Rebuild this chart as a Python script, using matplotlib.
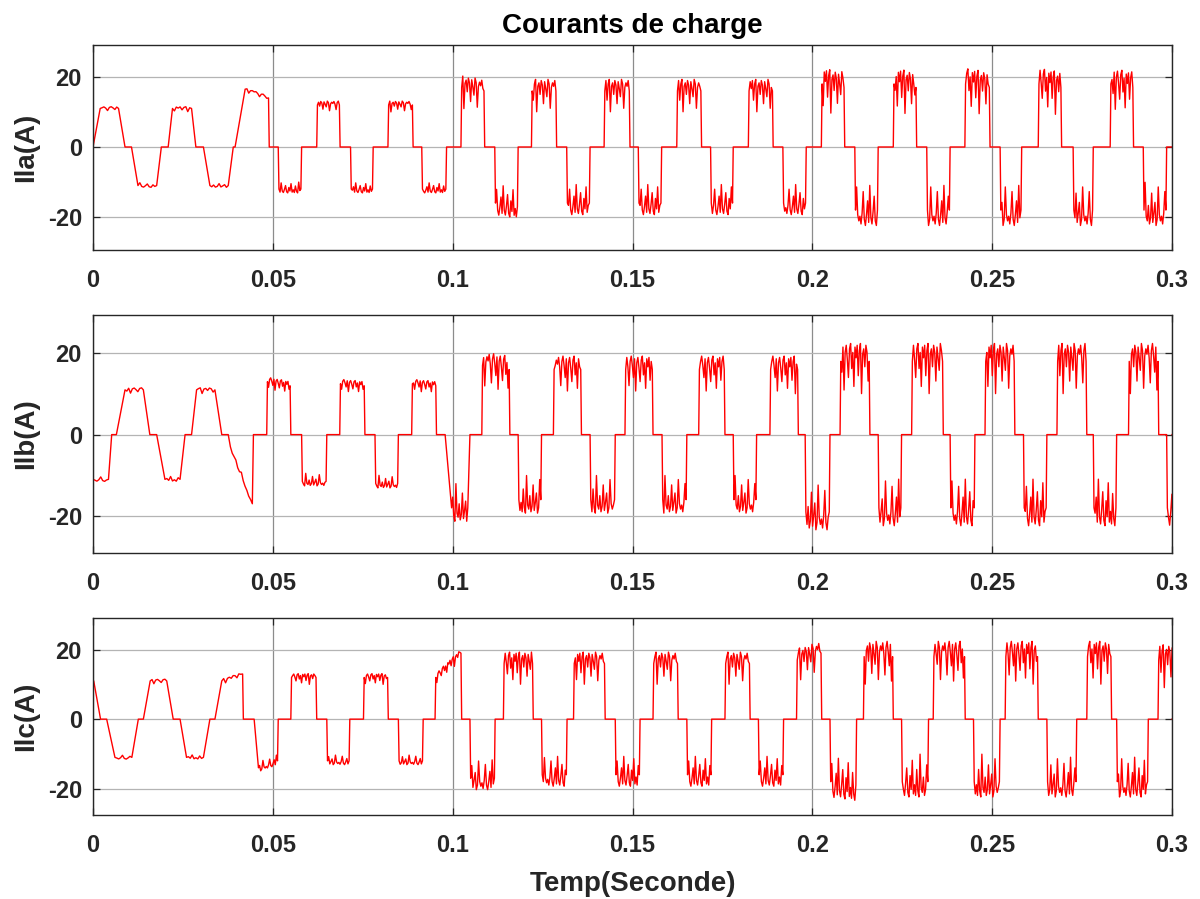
import numpy as np
import matplotlib
matplotlib.use("Agg")
import matplotlib.pyplot as plt

plt.rcParams['font.family'] = ['Liberation Sans', 'DejaVu Sans']
plt.rcParams['axes.unicode_minus'] = False

x_ticks = [0, 0.05, 0.1, 0.15, 0.2, 0.25, 0.3]
x_ticklabels = ['0', '0.05', '0.1', '0.15', '0.2', '0.25', '0.3']
y_ticks = [-20, 0, 20]

# regimes of the run (s) : ripple on the plateaus (A) and sample spacing (s)
regime_t = [0.047, 0.1, 0.2]
ripple_amp = [0.5, 1.1, 3.3, 4.4]
ripple_step = [0.0005, 0.0003, 0.0003, 0.0003]
# ripple shape, + away from zero, - toward zero
ripple = [0.4, 0.9, 0.2, -1.2, 0.6, 1.0, 0.3, -0.6, 0.8, -1.6,
          0.5, 0.9, 0.1, -0.9, 0.7, 1.0, -0.4, 0.5, -1.4, 0.8,
          0.2, 0.9, -0.8, 0.6, 1.0, -1.8, 0.4, 0.7, -0.3, 0.9,
          0.5, -1.1, 0.8, 0.2, -0.5, 1.0, 0.6, -1.5, 0.3, 0.7]

# half-cycles: (start, end, level at start, level at end[, rise, fall])
seg_a = [(0.0000, 0.0089, 11, 11, 0.0020, 0.0018),
         (0.0107, 0.0190, -11, -11, 0.0018, 0.0013),
         (0.0209, 0.0286, 11, 11, 0.0012, 0.0012),
         (0.0307, 0.0390, -11, -11, 0.0018, 0.0014),
         (0.0395, 0.0490, 16.5, 14, 0.0028, 0.0002),
         (0.0515, 0.0580, -12, -12), (0.0622, 0.0687, 12, 12),
         (0.0716, 0.0779, -12, -12), (0.0820, 0.0890, 12, 12),
         (0.0914, 0.0983, -12, -12), (0.1023, 0.1089, 17, 16),
         (0.1117, 0.1182, -16, -17), (0.1219, 0.1289, 16, 16),
         (0.1317, 0.1382, -16, -16), (0.1421, 0.1493, 16, 16),
         (0.1516, 0.1581, -16, -16), (0.1623, 0.1692, 16, 16),
         (0.1717, 0.1780, -16, -16), (0.1822, 0.1891, 16, 16),
         (0.1918, 0.1983, -16, -16), (0.2025, 0.2090, 18, 17),
         (0.2118, 0.2183, -18, -18), (0.2225, 0.2290, 18, 17),
         (0.2318, 0.2383, -18, -18), (0.2424, 0.2494, 18, 17),
         (0.2522, 0.2582, -18, -18), (0.2628, 0.2693, 18, 17),
         (0.2725, 0.2781, -18, -18), (0.2828, 0.2893, 18, 17),
         (0.2920, 0.2985, -18, -18)]

seg_b = [(0.0000, 0.0052, -11, -11, 0.0, 0.0009),
         (0.0065, 0.0158, 11, 11, 0.0024, 0.0018),
         (0.0177, 0.0256, -11, -11, 0.0023, 0.0014),
         (0.0274, 0.0358, 11, 11, 0.0014, 0.0019),
         (0.0376, 0.0446, -3, -17, 0.0006, 0.0003),
         (0.0483, 0.0550, 13, 12), (0.0580, 0.0650, -11.5, -11.5),
         (0.0686, 0.0756, 12.5, 12), (0.0784, 0.0849, -12, -12),
         (0.0886, 0.0955, 12.5, 12), (0.0979, 0.1048, -18, -18, 0.0018, 0.0006),
         (0.1081, 0.1159, 17, 16), (0.1182, 0.1247, -16, -16),
         (0.1280, 0.1358, 16, 16), (0.1382, 0.1452, -16, -16),
         (0.1479, 0.1557, 16, 16), (0.1582, 0.1651, -16, -16),
         (0.1684, 0.1757, 16, 16), (0.1780, 0.1845, -16, -16),
         (0.1882, 0.1961, 16, 16), (0.1980, 0.2049, -19, -19),
         (0.2077, 0.2160, 18, 18), (0.2183, 0.2248, -18, -18),
         (0.2276, 0.2364, 18, 18), (0.2383, 0.2452, -18, -18),
         (0.2480, 0.2563, 18, 18), (0.2587, 0.2652, -18, -18),
         (0.2680, 0.2763, 18, 18), (0.2781, 0.2846, -18, -18),
         (0.2879, 0.2963, 18, 18), (0.2985, 0.3030, -18, -20)]

seg_c = [(0.0000, 0.0021, 11, 11, 0.0, 0.0019),
         (0.0038, 0.0126, -11, -11, 0.0023, 0.0018),
         (0.0140, 0.0223, 11, 11, 0.0019, 0.0018),
         (0.0242, 0.0325, -11, -11, 0.0018, 0.0018),
         (0.0339, 0.0418, 11, 13, 0.0019, 0.0002),
         (0.0448, 0.0515, -14, -12, 0.0012, 0.0002),
         (0.0550, 0.0622, 12, 12), (0.0650, 0.0714, -12, -12),
         (0.0752, 0.0821, 12, 12), (0.0849, 0.0918, -12, -12),
         (0.0951, 0.1025, 12, 19), (0.1048, 0.1118, -17, -17),
         (0.1141, 0.1224, 16, 16), (0.1247, 0.1318, -16, -16),
         (0.1336, 0.1424, 16, 16), (0.1452, 0.1521, -16, -16),
         (0.1557, 0.1627, 16, 16), (0.1651, 0.1720, -16, -16),
         (0.1757, 0.1827, 16, 16), (0.1850, 0.1920, -16, -16),
         (0.1956, 0.2026, 17, 19), (0.2049, 0.2123, -18, -19),
         (0.2142, 0.2225, 18, 18), (0.2248, 0.2323, -18, -18),
         (0.2336, 0.2425, 18, 18), (0.2448, 0.2522, -18, -18),
         (0.2536, 0.2628, 18, 18), (0.2652, 0.2735, -18, -18),
         (0.2763, 0.2832, 18, 18), (0.2846, 0.2934, -18, -18),
         (0.2961, 0.3030, 17, 17)]

phases = [('Ila(A)', seg_a, (-29.4, 29.1)),
          ('Ilb(A)', seg_b, (-29.1, 29.4)),
          ('Ilc(A)', seg_c, (-27.6, 29.1))]

# axes boxes in figure fraction (left, bottom, width, height)
boxes = [(0.0775, 0.7219, 0.8992, 0.2280),
         (0.0775, 0.3849, 0.8992, 0.2647),
         (0.0775, 0.0934, 0.8992, 0.2191)]


def build(segs):
    t, y = [0.0], [0.0]
    k = 0
    for s in segs:
        on, off, l0, l1 = s[:4]
        e_on, e_off = s[4:] if len(s) > 4 else (0.0002, 0.0002)
        r = int(np.searchsorted(regime_t, 0.5 * (on + off)))
        amp, dt = ripple_amp[r], ripple_step[r]
        sgn = 1.0 if l0 + l1 > 0 else -1.0
        t.append(on); y.append(0.0)
        p0, p1 = on + e_on, off - e_off
        n = max(int((p1 - p0) / dt), 1)
        for i in range(n + 1):
            lv = l0 + (l1 - l0) * i / n
            if 0 < i < n:
                lv += sgn * ripple[k % len(ripple)] * amp
                k += 1
            t.append(p0 + (p1 - p0) * i / n); y.append(lv)
        t.append(off); y.append(0.0)
    t.append(0.3); y.append(0.0)
    return np.array(t), np.array(y)


txt = '#262626'
fig = plt.figure(figsize=(12, 8.99), dpi=100)
for i, (lab, segs, yl) in enumerate(phases):
    ax = fig.add_axes(boxes[i])
    tt, ii = build(segs)
    ax.plot(tt, ii, color='#ff0000', lw=1.0)
    ax.set_xlim(0, 0.3)
    ax.set_ylim(*yl)
    ax.set_xticks(x_ticks)
    ax.set_xticklabels(x_ticklabels)
    ax.set_yticks(y_ticks)
    ax.grid(True, axis='y', color='#b4b4b4', lw=0.9)
    ax.grid(True, axis='x', color='#8c8c8c', lw=0.9)
    ax.tick_params(direction='in', length=5, width=0.9, top=True, right=True,
                   labelsize=17, colors=txt)
    ax.tick_params(axis='x', pad=14)
    ax.tick_params(axis='y', pad=8)
    for lb in ax.get_xticklabels() + ax.get_yticklabels():
        lb.set_fontweight('bold')
    for sp in ax.spines.values():
        sp.set_color(txt)
        sp.set_linewidth(1.0)
    ax.set_ylabel(lab, fontsize=20, fontweight='bold', color=txt, labelpad=6)
    if i == 0:
        ax.set_title('Courants de charge', fontsize=20, fontweight='bold',
                     color='#000000', pad=9)
    if i == 2:
        ax.set_xlabel('Temp(Seconde)', fontsize=20, fontweight='bold',
                      color=txt, labelpad=10)

fig.savefig('out.png', dpi=100)
